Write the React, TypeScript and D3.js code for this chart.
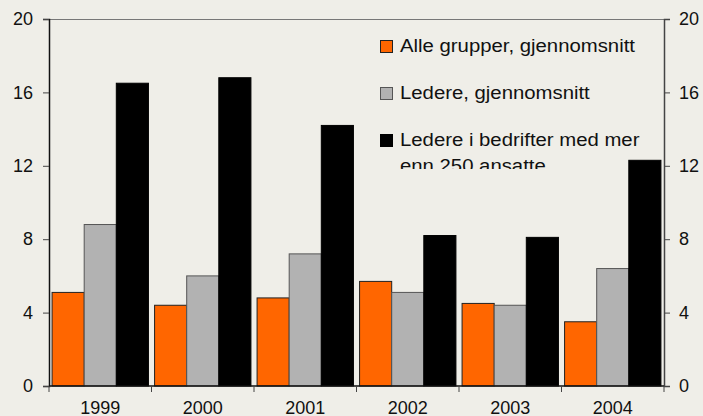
import React, { useRef, useEffect } from 'react';
import * as d3 from 'd3';

// data
const years = ['1999', '2000', '2001', '2002', '2003', '2004'];
const alleGrupper = [5.1, 4.4, 4.8, 5.7, 4.5, 3.5];
const ledere = [8.8, 6.0, 7.2, 5.1, 4.4, 6.4];
const ledereStore = [16.5, 16.8, 14.2, 8.2, 8.1, 12.3];
const yTicks = [0, 4, 8, 12, 16, 20];
const seriesNames = [
  'Alle grupper, gjennomsnitt',
  'Ledere, gjennomsnitt',
  'Ledere i bedrifter med mer',
];
const legendExtraLine = 'enn 250 ansatte';

const W = 703;
const H = 416;
const m = { left: 49, right: 664, top: 19, bottom: 386 };
const font = 'Liberation Sans, Arial, sans-serif';

const colors = ['#ff6600', '#b2b2b2', '#000000'];
const strokes = ['#222', '#555', '#000'];

export default function App() {
  const svgRef = useRef<SVGSVGElement>(null);

  useEffect(() => {
    const svg = d3.select(svgRef.current);
    svg.selectAll('*').remove();

    svg.append('rect').attr('width', W).attr('height', H).attr('fill', '#efeee8');

    const x0 = d3.scaleBand().domain(years).range([m.left, m.right]).paddingInner(0.06).paddingOuter(0.03);
    const x1 = d3.scaleBand().domain(['0', '1', '2']).range([0, x0.bandwidth()]);
    const y = d3.scaleLinear().domain([0, 20]).range([m.bottom, m.top]);

    const series = [alleGrupper, ledere, ledereStore];

    // bars
    const g = svg.append('g');
    years.forEach((yr, i) => {
      series.forEach((s, k) => {
        g.append('rect')
          .attr('x', (x0(yr) as number) + (x1(String(k)) as number))
          .attr('y', y(s[i]))
          .attr('width', x1.bandwidth())
          .attr('height', y(0) - y(s[i]))
          .attr('fill', colors[k])
          .attr('stroke', strokes[k])
          .attr('stroke-width', 1);
      });
    });

    // frame lines
    svg.append('line').attr('x1', m.left).attr('x2', m.right).attr('y1', m.top + 0.5).attr('y2', m.top + 0.5)
      .attr('stroke', '#777').attr('stroke-width', 1);

    const leftAxis = svg.append('g').attr('transform', `translate(${m.left},0)`)
      .call(d3.axisLeft(y).tickValues(yTicks).tickSize(6).tickPadding(10).tickFormat(d3.format('d')));
    const rightAxis = svg.append('g').attr('transform', `translate(${m.right},0)`)
      .call(d3.axisRight(y).tickValues(yTicks).tickSize(6).tickPadding(9).tickFormat(d3.format('d')));
    [leftAxis, rightAxis].forEach((a, idx) => {
      a.select('.domain').attr('stroke', idx === 0 ? '#111' : '#444').attr('stroke-width', 1.5);
      a.selectAll('.tick line').attr('stroke', '#444');
      a.selectAll('text').attr('font-family', font).attr('font-size', 18).attr('fill', '#111');
    });

    // bottom axis: ticks at category boundaries
    const bottom = svg.append('g');
    bottom.append('line').attr('x1', m.left).attr('x2', m.right).attr('y1', m.bottom).attr('y2', m.bottom)
      .attr('stroke', '#111').attr('stroke-width', 1.5);
    const step = x0.step();
    d3.range(years.length + 1).forEach(i => {
      const xx = m.left + i * step;
      bottom.append('line').attr('x1', xx).attr('x2', xx).attr('y1', m.bottom).attr('y2', m.bottom + 6)
        .attr('stroke', '#444');
    });
    years.forEach(yr => {
      bottom.append('text')
        .attr('x', (x0(yr) as number) + x0.bandwidth() / 2)
        .attr('y', 414)
        .attr('text-anchor', 'middle')
        .attr('font-family', font).attr('font-size', 18).attr('fill', '#111')
        .text(yr);
    });

    // legend, clipped at its box bottom like the original
    svg.append('clipPath').attr('id', 'legclip')
      .append('rect').attr('x', 370).attr('y', 25).attr('width', 300).attr('height', 144);
    const leg = svg.append('g').attr('clip-path', 'url(#legclip)');
    // the original's legend font is a bit wider than Liberation Sans
    const stretch = (sel: any) => sel.attr('transform', 'translate(400,0) scale(1.13,1) translate(-400,0)');
    seriesNames.forEach((name, k) => {
      const base = 52 + k * 47;
      leg.append('rect').attr('x', 380.5).attr('y', base - 11.5).attr('width', 12).attr('height', 12)
        .attr('fill', colors[k]).attr('stroke', strokes[k]);
      leg.append('text').attr('x', 400).attr('y', base)
        .attr('font-family', font).attr('font-size', 18).attr('fill', '#111').text(name)
        .call(stretch);
    });
    leg.append('text').attr('x', 400).attr('y', 172)
      .attr('font-family', font).attr('font-size', 18).attr('fill', '#111').text(legendExtraLine)
      .call(stretch);
  }, []);

  return (
    <svg ref={svgRef} width={W} height={H} style={{ position: 'absolute', left: 0, top: 0, display: 'block' }} />
  );
}
